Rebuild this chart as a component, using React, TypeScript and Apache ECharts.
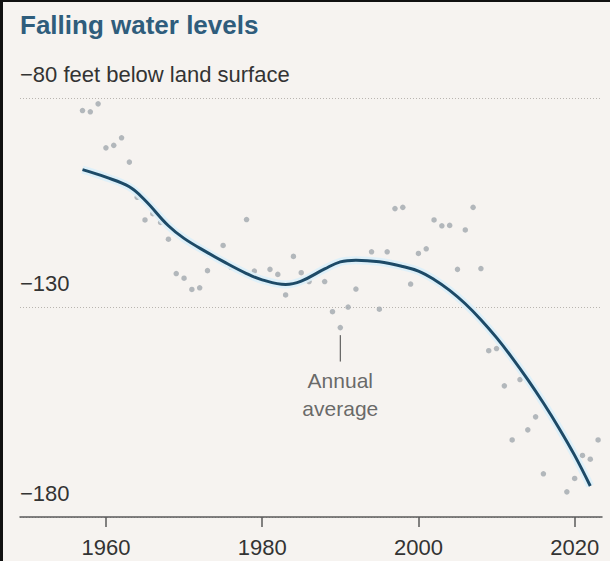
import React, { useEffect, useRef } from "react";
import * as echarts from "echarts";

const dotYears = [
  1957, 1958, 1959, 1960, 1961, 1962, 1963, 1964, 1965, 1966, 1967, 1968, 1969, 1970, 1971, 1972, 1973,
  1975, 1976, 1978, 1979, 1981, 1982, 1983, 1984, 1985, 1986, 1988, 1989, 1990, 1991, 1992,
  1994, 1995, 1996, 1997, 1998, 1999, 2000, 2001, 2002, 2003, 2004, 2005, 2006, 2007, 2008,
  2009, 2010, 2011, 2012, 2013, 2014, 2015, 2016, 2019, 2020, 2021, 2022, 2023,
];
const dotValues = [
  -83.0, -83.3, -81.4, -91.9, -91.3, -89.5, -95.3, -103.7, -109.1, -107.6, -109.7, -113.7, -121.9, -123.0, -125.7, -125.3, -121.2,
  -115.2, -120.4, -109.0, -121.3, -120.9, -122.1, -127.0, -117.8, -121.7, -123.8, -123.8, -131.0, -134.8, -129.9, -125.6,
  -116.7, -130.4, -116.7, -106.4, -106.1, -124.4, -117.1, -116.0, -109.1, -110.5, -110.4, -120.9, -111.5, -106.1, -120.7,
  -140.3, -139.8, -148.7, -161.6, -147.2, -159.2, -156.1, -169.7, -174.0, -170.8, -165.3, -166.2, -161.6,
];

const trendYears = [
  1957, 1960, 1963, 1965, 1968, 1970, 1973, 1975, 1978, 1980, 1983, 1985, 1988, 1990, 1992, 1995,
  1998, 2000, 2002, 2004, 2006, 2008, 2010, 2012, 2014, 2016, 2018, 2020, 2022,
];
const trendValues = [
  -97.1, -98.9, -101.2, -104.4, -110.5, -113.5, -116.9, -119.0, -121.9, -123.4, -124.5, -123.7, -120.8, -119.1, -118.7, -119.1,
  -120.2, -121.3, -123.3, -125.9, -129.1, -132.9, -137.2, -142.0, -147.2, -152.8, -158.8, -165.3, -172.6,
];

const xTickLabels = [1960, 1980, 2000, 2020];
const yTickValues = [-180, -130, -80];

const annotationYear = [1990, 1990];
const annotationValues = [-136.6, -142.9];

const TITLE = "Falling water levels";
const UNIT = " feet below land surface";
const ANNOTATION = "Annual\naverage";

const FONT = "'Liberation Sans', Arial, sans-serif";

export default function App() {
  const ref = useRef<HTMLDivElement>(null);

  useEffect(() => {
    if (!ref.current) return;
    const chart = echarts.init(ref.current, null, { renderer: "svg" });

    const dots = dotYears.map((y, i) => [y, dotValues[i]]);
    const trend = trendYears.map((y, i) => [y, trendValues[i]]);
    const leader = annotationYear.map((y, i) => [y, annotationValues[i]]);

    chart.setOption({
      animation: false,
      backgroundColor: "#f6f3f0",
      textStyle: { fontFamily: FONT },
      grid: { left: 20, right: 8, top: 98, bottom: 44, containLabel: false },
      xAxis: {
        type: "value",
        min: 1949,
        max: 2023.5,
        axisLine: { show: true, lineStyle: { color: "#5a5a5a", width: 1.5 } },
        axisTick: {
          show: true,
          customValues: xTickLabels,
          length: 10,
          lineStyle: { color: "#5a5a5a", width: 1.5 },
        },
        axisLabel: {
          customValues: xTickLabels,
          margin: 19,
          fontSize: 22,
          color: "#333",
          fontFamily: FONT,
          formatter: (v: number) => String(v),
        },
        splitLine: { show: false },
      },
      yAxis: {
        type: "value",
        min: -180,
        max: -80,
        interval: 50,
        axisLine: { show: false },
        axisTick: { show: false },
        axisLabel: {
          inside: true,
          margin: 0,
          align: "left",
          verticalAlign: "bottom",
          padding: [0, 0, 13, 0],
          fontSize: 22,
          color: "#333",
          fontFamily: FONT,
          formatter: (v: number) =>
            (v < 0 ? "\u2212" : "") + Math.abs(v) + (v === yTickValues[2] ? UNIT : ""),
        },
        splitLine: {
          show: true,
          lineStyle: { color: "#b9b5b0", width: 1, type: [1, 2] },
        },
      },
      graphic: [
        { type: "rect", shape: { x: 0, y: 0, width: 610, height: 2 }, style: { fill: "#111" }, z: 100 },
        { type: "rect", shape: { x: 0, y: 0, width: 3, height: 561 }, style: { fill: "#111" }, z: 100 },
        {
          type: "text",
          left: 20,
          top: 12,
          style: {
            text: TITLE,
            fontSize: 26,
            fontWeight: "bold",
            fontFamily: FONT,
            fill: "#2f5d7c",
          },
        },
      ],
      series: [
        {
          type: "scatter",
          data: dots,
          symbolSize: 5.5,
          itemStyle: { color: "#a1a8ae" },
          z: 1,
          silent: true,
        },
        {
          type: "line",
          data: trend,
          smooth: 0.4,
          showSymbol: false,
          symbol: "none",
          lineStyle: { color: "#dcf0fa", width: 8, opacity: 0.9 },
          z: 2,
          silent: true,
        },
        {
          type: "line",
          data: trend,
          smooth: 0.4,
          showSymbol: false,
          symbol: "none",
          lineStyle: { color: "#1d4a67", width: 3 },
          z: 3,
          silent: true,
        },
        {
          type: "line",
          data: leader,
          showSymbol: false,
          symbol: "none",
          lineStyle: { color: "#444", width: 1 },
          z: 3,
          silent: true,
        },
        {
          type: "scatter",
          data: [leader[1]],
          symbolSize: 0.1,
          itemStyle: { color: "transparent" },
          label: {
            show: true,
            position: "bottom",
            distance: 5,
            formatter: ANNOTATION,
            fontSize: 21,
            lineHeight: 28,
            color: "#444",
            align: "center",
            fontFamily: FONT,
          },
          z: 4,
          silent: true,
        },
      ],
    });

    return () => chart.dispose();
  }, []);

  return (
    <div
      ref={ref}
      style={{ position: "fixed", left: 0, top: 0, width: 610, height: 561 }}
    />
  );
}
